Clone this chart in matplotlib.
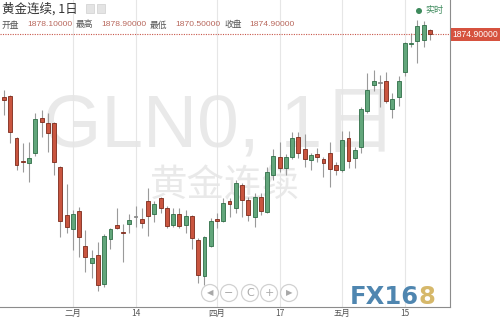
import numpy as np
import matplotlib
matplotlib.use("Agg")
import matplotlib.pyplot as plt
from matplotlib.patches import Circle, Rectangle

plt.rcParams["font.family"] = ["Noto Sans CJK SC", "DejaVu Sans"]

# daily OHLC, GLN0
opens = [1825.4, 1826.2, 1792.8, 1775.2, 1773.2, 1781.1, 1808.8, 1804.8, 1804.8, 1770.1,
         1732.2, 1721.1, 1735.3, 1707.7, 1694.2, 1700.6, 1677.6, 1713.2, 1724.3, 1719.1,
         1725.0, 1730.6, 1729.0, 1743.2, 1732.9, 1745.6, 1737.7, 1724.3, 1732.9, 1724.3,
         1731.4, 1712.4, 1684.0, 1707.7, 1729.0, 1727.4, 1743.2, 1737.7, 1755.9, 1744.0,
         1730.6, 1746.4, 1734.5, 1763.8, 1778.0, 1769.3, 1778.0, 1793.8, 1784.3, 1775.6,
         1780.3, 1776.4, 1781.1, 1771.7, 1767.7, 1793.0, 1777.2, 1785.9, 1814.3, 1834.9,
         1836.4, 1838.0, 1815.9, 1825.4, 1845.1, 1867.2, 1869.6, 1870.4, 1878.1]
highs = [1830.9, 1827.0, 1793.8, 1789.0, 1789.8, 1812.7, 1815.1, 1812.7, 1805.5, 1770.9,
         1756.6, 1736.1, 1738.5, 1720.3, 1704.5, 1710.8, 1717.1, 1721.9, 1737.7, 1725.0,
         1732.9, 1739.3, 1737.7, 1753.5, 1743.2, 1746.4, 1739.3, 1737.7, 1737.7, 1736.1,
         1732.2, 1714.0, 1715.5, 1729.8, 1733.7, 1745.6, 1745.6, 1759.8, 1757.4, 1746.4,
         1749.5, 1749.5, 1770.1, 1784.3, 1789.8, 1780.3, 1797.7, 1797.7, 1796.1, 1781.1,
         1785.1, 1778.0, 1789.8, 1774.0, 1798.5, 1798.5, 1785.9, 1817.5, 1844.3, 1846.7,
         1842.8, 1845.1, 1828.5, 1842.0, 1868.8, 1875.9, 1886.2, 1885.4, 1878.9]
lows = [1811.2, 1789.0, 1767.7, 1766.1, 1758.2, 1778.8, 1793.8, 1781.9, 1763.8, 1714.8,
        1717.9, 1704.5, 1699.0, 1687.1, 1682.4, 1672.1, 1675.3, 1705.3, 1721.5, 1695.0,
        1717.9, 1722.7, 1721.9, 1715.6, 1726.6, 1733.7, 1721.9, 1722.7, 1721.9, 1717.9,
        1705.3, 1678.4, 1676.9, 1706.9, 1721.9, 1726.6, 1730.6, 1733.7, 1730.6, 1727.4,
        1722.7, 1732.2, 1733.7, 1759.8, 1766.1, 1763.8, 1776.4, 1777.2, 1770.1, 1767.7,
        1774.0, 1762.2, 1754.3, 1763.8, 1766.1, 1769.3, 1769.3, 1781.1, 1812.7, 1830.1,
        1817.5, 1820.6, 1808.8, 1818.3, 1842.0, 1864.9, 1852.2, 1864.9, 1870.5]
closes = [1823.0, 1797.7, 1771.7, 1774.4, 1777.2, 1808.0, 1805.6, 1796.9, 1774.0, 1727.4,
          1722.7, 1732.9, 1714.8, 1699.0, 1698.2, 1676.9, 1715.6, 1721.1, 1721.9, 1718.3,
          1728.2, 1730.6, 1725.8, 1731.4, 1740.8, 1737.7, 1723.5, 1732.9, 1723.5, 1731.4,
          1714.0, 1684.8, 1714.8, 1727.4, 1727.4, 1741.6, 1740.8, 1757.4, 1744.0, 1732.2,
          1746.4, 1735.3, 1766.1, 1778.8, 1769.3, 1778.0, 1793.0, 1781.1, 1776.4, 1779.6,
          1778.0, 1773.2, 1768.5, 1767.7, 1791.4, 1774.8, 1783.5, 1815.9, 1830.9, 1838.0,
          1836.4, 1822.2, 1823.8, 1838.0, 1868.0, 1868.0, 1881.5, 1882.3, 1874.9]

tick_pos = [11, 21, 34, 44, 54, 64]
tick_labels = ["二月", "14", "四月", "17", "五月", "15"]

last_price = 1874.90
header_names = ["开盘", "最高", "最低", "收盘"]
header_values = ["1878.10000", "1878.90000", "1870.50000", "1874.90000"]

opens = np.array(opens)
closes = np.array(closes)
highs = np.array(highs)
lows = np.array(lows)
idx = np.arange(len(opens))

up_fill, up_edge = "#62a67b", "#2f6e47"
dn_fill, dn_edge = "#c9553f", "#7d2a1b"

fig = plt.figure(figsize=(5, 3.21), dpi=100)
ax = fig.add_axes([0, 14 / 321, 450 / 500, 307 / 321])

# watermark
ax.text(0.49, 0.585, "GLN0, 1日", transform=ax.transAxes, ha="center", va="center",
        fontsize=54, color="#e9e9e9", family=["Liberation Sans", "Noto Sans CJK SC"], zorder=0)
ax.text(0.50, 0.395, "黄金连续", transform=ax.transAxes, ha="center", va="center",
        fontsize=27, color="#e9e9e9", zorder=0)

for t in tick_pos:
    ax.axvline(t, color="#e6e6e6", lw=0.8, zorder=1)

ax.vlines(idx, lows, highs, color="#9a9a9a", lw=0.8, zorder=2)

colors, edges = [], []
for o, c in zip(opens, closes):
    if c > o:
        colors.append(up_fill); edges.append(up_edge)
    elif c < o:
        colors.append(dn_fill); edges.append(dn_edge)
    else:
        colors.append("#8a8a8a"); edges.append("#8a8a8a")
body = np.maximum(np.abs(closes - opens), 0.6)
ax.bar(idx, body, bottom=np.minimum(opens, closes), width=0.62, color=colors,
       edgecolor=edges, linewidth=0.6, zorder=3)

ax.axhline(last_price, color="#c8574a", lw=0.8, ls=(0, (1, 1.2)), zorder=2)
ax.text(1.006, last_price, "1874.90000", transform=ax.get_yaxis_transform(),
        ha="left", va="center", fontsize=6.2, color="white", family="Liberation Sans",
        bbox=dict(boxstyle="square,pad=0.22", fc="#d6523f", ec="none"), clip_on=False)

ax.set_xlim(-0.64, 71.2)
ax.set_ylim(1659.5, 1902)
ax.set_xticks(tick_pos)
ax.set_xticklabels(tick_labels, fontsize=6, color="#555555")
ax.tick_params(axis="x", length=0, pad=1.5)
ax.set_yticks([])
for s in ["top", "left"]:
    ax.spines[s].set_visible(False)
ax.spines["bottom"].set_color("#8c8c8c")
ax.spines["right"].set_color("#8c8c8c")

# overlay in pixel coordinates for header, buttons and logo
ov = fig.add_axes([0, 0, 1, 1])
ov.set_xlim(0, 500)
ov.set_ylim(321, 0)
ov.axis("off")
ov.patch.set_alpha(0)

ov.text(2, 9, "黄金连续, 1日", fontsize=9, color="#333333", va="center", ha="left")
for x0 in [86, 97]:
    ov.add_patch(Rectangle((x0, 4), 8, 9, fc="#e4e4e4", ec="#cfcfcf", lw=0.5))

for i, (name, val) in enumerate(zip(header_names, header_values)):
    ov.text(2 + 74 * i, 25, name, fontsize=6.3, color="#555555", va="center", ha="left")
    ov.text(27 + 74 * i, 25, val, fontsize=6.1, color="#b8675c", va="center", ha="left",
            family="Liberation Sans")

ov.add_patch(Circle((419, 11), 3, fc="#3d8a5c", ec="none"))
ov.text(425, 11, "实时", fontsize=6.5, color="#3d8a5c", va="center", ha="left")

for cx, sym in zip([210, 229, 250, 269, 289], ["◀", "−", "C", "+", "▶"]):
    ov.add_patch(Circle((cx, 293), 8.5, fc="white", ec="#cccccc", lw=0.9, alpha=0.9))
    ov.text(cx, 293, sym, fontsize=6 if sym in "◀▶" else 8, color="#a8a8a8",
            ha="center", va="center", family="DejaVu Sans")

ov.text(350, 304, "FX16", fontsize=17.5, fontweight="bold", color="#4f86b0",
        ha="left", va="baseline", family="DejaVu Sans")
ov.text(418, 304, "8", fontsize=17.5, fontweight="bold", color="#d6b86a",
        ha="left", va="baseline", family="DejaVu Sans")

fig.savefig("out.png", dpi=100)
